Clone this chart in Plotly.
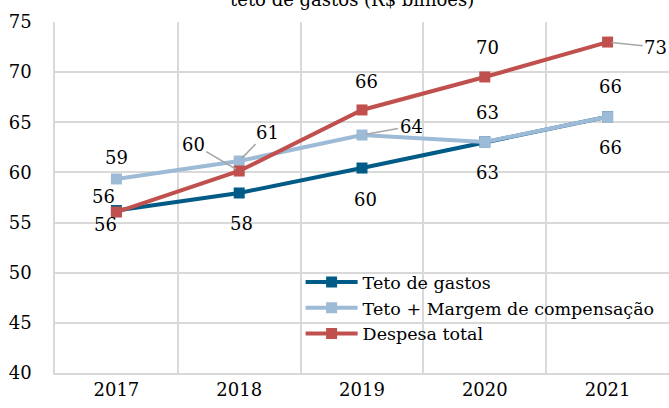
import plotly.graph_objects as go

years = ["2017", "2018", "2019", "2020", "2021"]
teto = [56.2, 57.95, 60.44, 63.04, 65.55]
margem = [59.35, 61.14, 63.73, 63.04, 65.55]
despesa = [56.05, 60.14, 66.23, 69.52, 73.0]

teto_lbl = ["56", "58", "60", "63", "66"]
margem_lbl = ["59", "61", "64", "63", "66"]
despesa_lbl = ["56", "60", "66", "70", "73"]

names = ["Teto de gastos", "Teto + Margem de compensação", "Despesa total"]
colors = ["#005b86", "#9dbad6", "#c0504d"]

FONT = "DejaVu Serif"
FS = 18

fig = go.Figure()
for name, vals, col in zip(names, [teto, margem, despesa], colors):
    fig.add_trace(go.Scatter(
        x=years, y=vals, name=name, mode="lines+markers",
        line=dict(color=col, width=4),
        marker=dict(symbol="square", size=11, color=col),
    ))

# label offsets (pixels): (dx, dy) with dy positive downward, and arrow flag
teto_off = [(-13, -14, False), (2, 31, False), (3, 31, False), (3, 31, False), (3, 31, False)]
margem_off = [(0, -21, False), (28, -29, True), (49, -9, True), (3, -29, False), (3, -30, False)]
despesa_off = [(-11, 12, False), (-46, -27, True), (4, -28, False), (3, -29, False), (48, 5, True)]

annotations = []
for vals, lbls, offs in [(teto, teto_lbl, teto_off), (margem, margem_lbl, margem_off),
                         (despesa, despesa_lbl, despesa_off)]:
    for i, (v, t, (dx, dy, arrow)) in enumerate(zip(vals, lbls, offs)):
        if arrow:
            annotations.append(dict(
                x=i, y=v, xref="x", yref="y", text=t, showarrow=True,
                ax=dx, ay=dy, arrowhead=0, arrowwidth=1.5, arrowcolor="#a6a6a6",
                standoff=4, font=dict(family=FONT, size=FS, color="#000000"),
            ))
        else:
            annotations.append(dict(
                x=i, y=v, xref="x", yref="y", text=t, showarrow=False,
                xshift=dx, yshift=-dy, font=dict(family=FONT, size=FS, color="#000000"),
            ))

annotations.append(dict(
    x=0.483, y=1.0627, xref="paper", yref="paper", text="teto de gastos (R$ bilhões)",
    showarrow=False, xanchor="center", yanchor="middle",
    font=dict(family=FONT, size=FS, color="#000000"),
))

fig.update_layout(
    width=669, height=408,
    margin=dict(l=55, r=0, t=22, b=35),
    paper_bgcolor="white", plot_bgcolor="white",
    font=dict(family=FONT, size=FS, color="#000000"),
    showlegend=True,
    legend=dict(x=0.40, y=0.31, xanchor="left", yanchor="top",
                bgcolor="rgba(0,0,0,0)", font=dict(family=FONT, size=17.5),
                tracegroupgap=0, itemwidth=52),
    annotations=annotations,
    xaxis=dict(type="category", tickson="boundaries", showgrid=True,
               gridcolor="#d9d9d9", gridwidth=1.5, showline=True, linecolor="#d9d9d9",
               linewidth=1.5, ticks="outside", ticklen=16, tickcolor="rgba(0,0,0,0)",
               range=[-0.5, 4.5], zeroline=False),
    yaxis=dict(range=[40, 75], dtick=5, showgrid=True, gridcolor="#d9d9d9", gridwidth=1.5,
               showline=True, linecolor="#d9d9d9", linewidth=1.5, zeroline=False,
               ticks="outside", ticklen=18, tickcolor="rgba(0,0,0,0)"),
)

fig.write_html("out.html", config={"displayModeBar": False},
               post_script="document.body.style.margin='0';document.body.style.overflow='hidden';")
